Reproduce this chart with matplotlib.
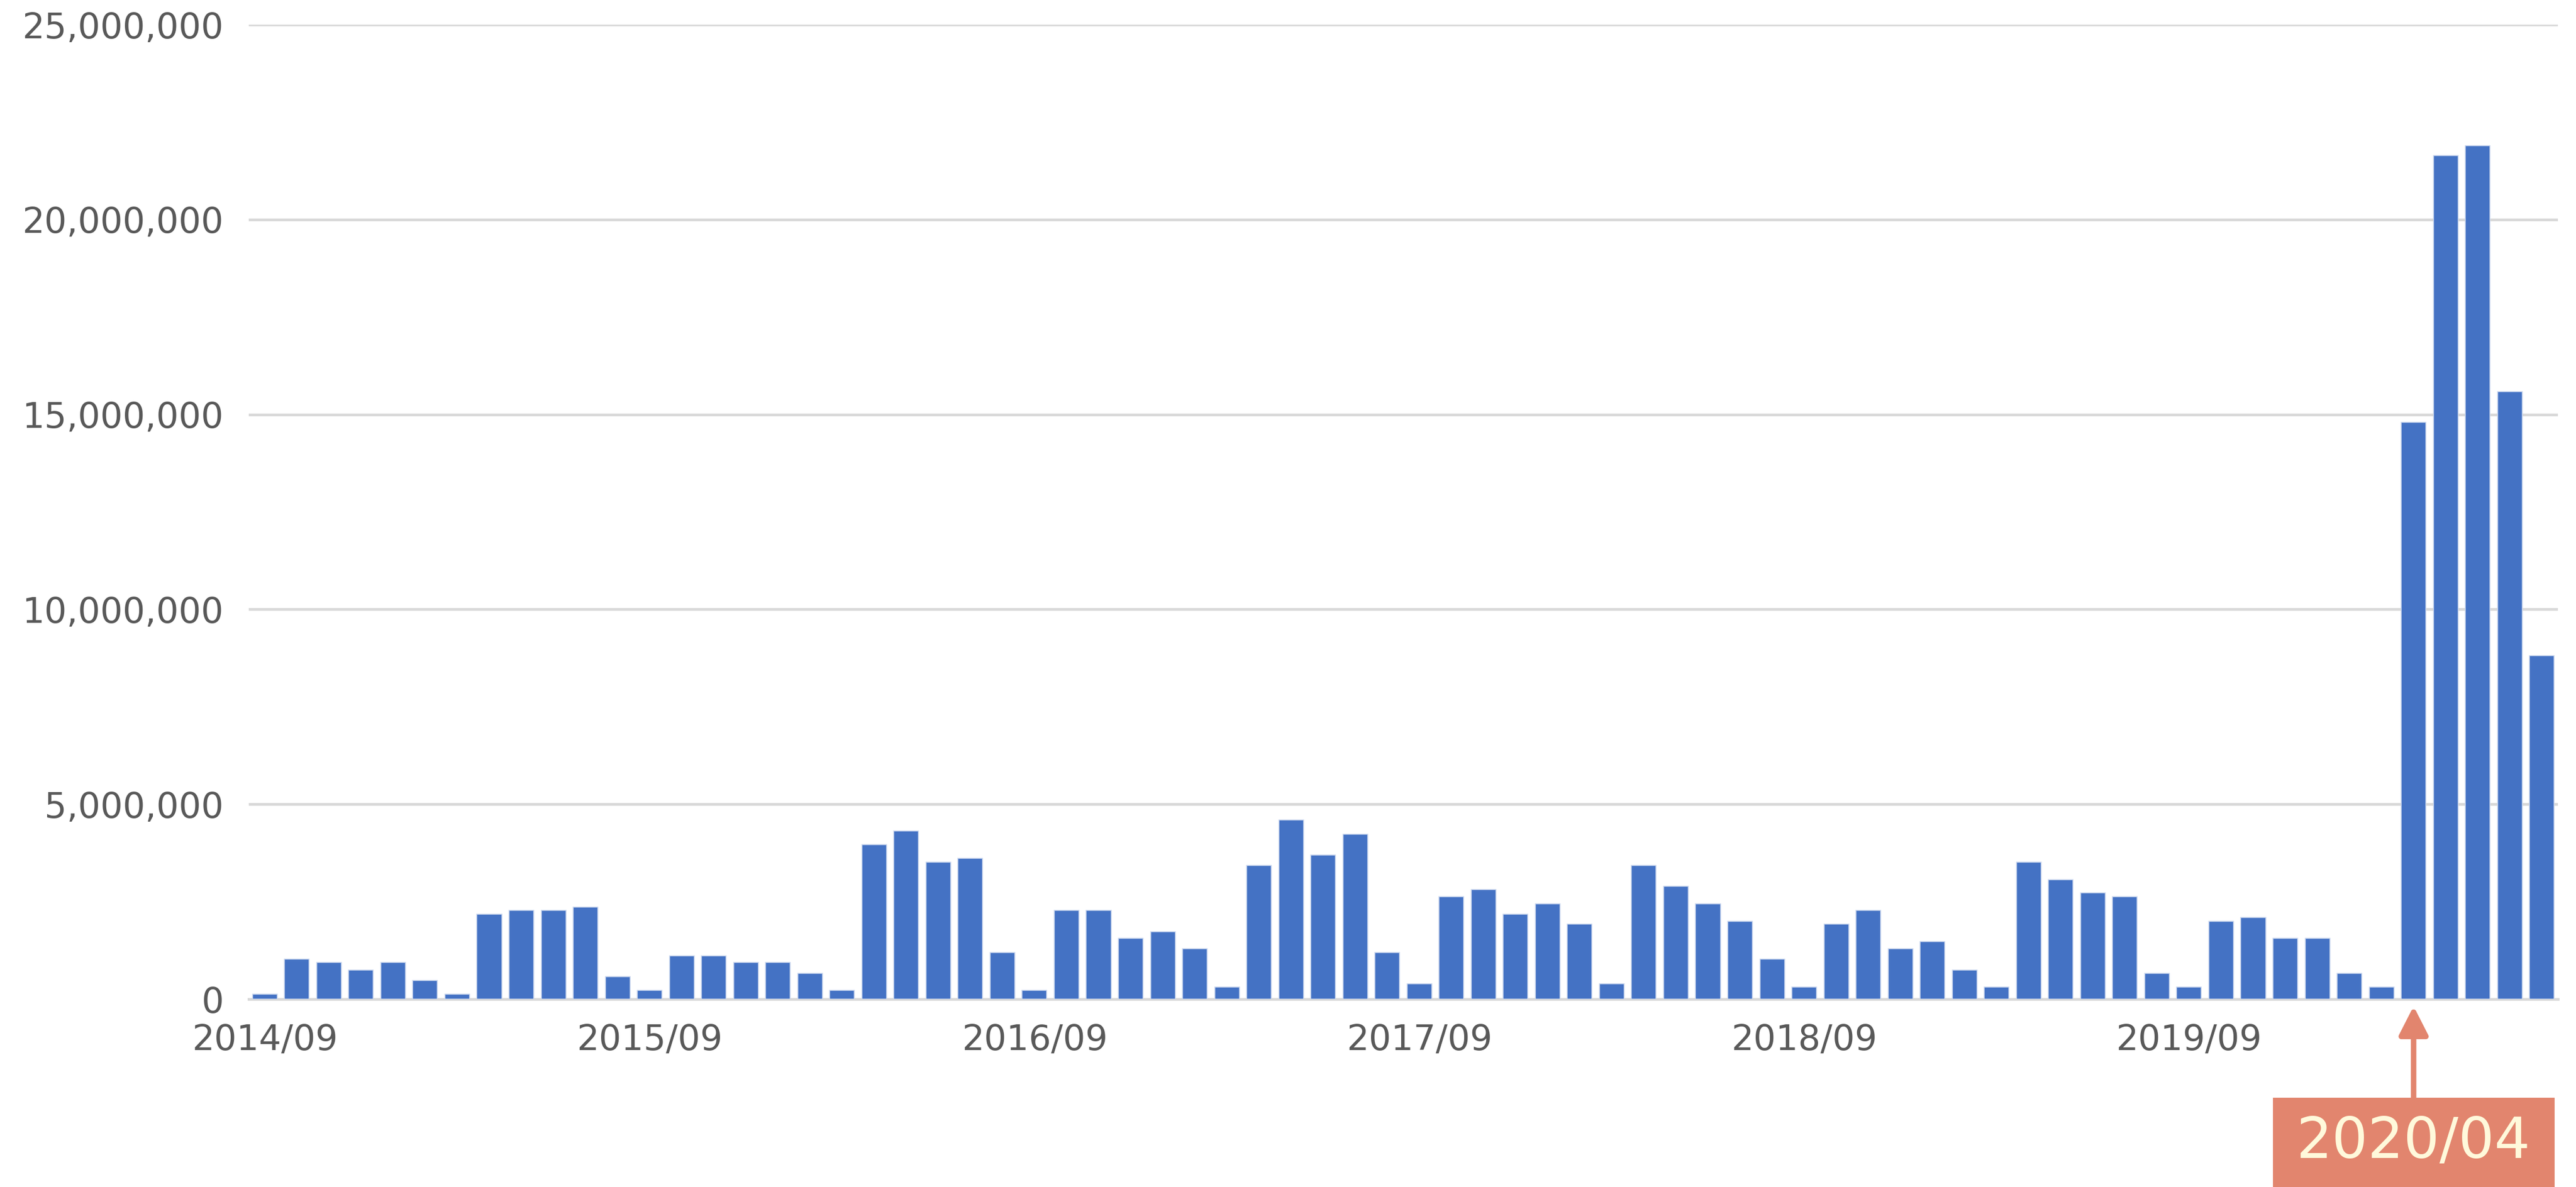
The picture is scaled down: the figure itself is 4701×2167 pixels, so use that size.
"""Monthly bar chart with 2020/04 callout."""

import matplotlib

matplotlib.use("Agg")
import matplotlib.pyplot as plt
import matplotlib.transforms as mtransforms
from matplotlib.patches import Rectangle
from matplotlib.ticker import FuncFormatter, MultipleLocator
import pandas as pd

# monthly values, 2014/09 .. 2020/08 (millions)
months = pd.period_range("2014-09", periods=72, freq="M")
values_m = [
    0.12, 1.02, 0.94, 0.75, 0.94, 0.48, 0.12, 2.18, 2.27, 2.27, 2.36, 0.575,
    0.22, 1.11, 1.11, 0.94, 0.94, 0.665, 0.22, 3.97, 4.32, 3.52, 3.61, 1.20,
    0.22, 2.27, 2.27, 1.56, 1.73, 1.29, 0.31, 3.43, 4.59, 3.70, 4.23, 1.20,
    0.40, 2.63, 2.81, 2.18, 2.44, 1.92, 0.40, 3.43, 2.90, 2.44, 2.00, 1.02,
    0.31, 1.92, 2.27, 1.29, 1.47, 0.75, 0.31, 3.52, 3.07, 2.72, 2.63, 0.665,
    0.31, 2.00, 2.09, 1.56, 1.56, 0.665, 0.31, 14.80, 21.64, 21.90, 15.59, 8.81,
]
values = [v * 1_000_000 for v in values_m]
tick_labels = [m.strftime("%Y/%m") for m in months]
tick_every = 12
callout_label = "2020/04"

BAR_COLOR = "#4472C4"
GRID_COLOR = "#D9D9D9"
TEXT_COLOR = "#595959"
CALLOUT_COLOR = "#E2856E"
CALLOUT_TEXT = "#FFF9DB"

plt.rcParams["font.family"] = ["DejaVu Sans"]

fig = plt.figure(figsize=(4701 / 300, 2167 / 300), dpi=300)
ax = fig.add_axes([0.09658, 0.15828, 0.99298 - 0.09658, 0.97923 - 0.15828])

x = list(range(len(values)))
ax.bar(x, values, width=0.77, color=BAR_COLOR, edgecolor="#C9D6EE",
       linewidth=0.4, zorder=3)

ax.set_xlim(-0.5, len(values) - 0.5)
ax.set_ylim(0, 25_000_000)
ax.yaxis.set_major_locator(MultipleLocator(5_000_000))
ax.yaxis.set_major_formatter(FuncFormatter(lambda v, _: f"{int(v):,}"))
ax.grid(axis="y", color=GRID_COLOR, linewidth=1.2, zorder=0)
ax.set_axisbelow(True)

ax.set_xticks(x[::tick_every])
ax.set_xticklabels(tick_labels[::tick_every])

for side in ("top", "right", "left"):
    ax.spines[side].set_visible(False)
ax.spines["bottom"].set_color(GRID_COLOR)
ax.spines["bottom"].set_linewidth(1.2)

ax.tick_params(axis="both", length=0, labelsize=15.4, labelcolor=TEXT_COLOR)
ax.tick_params(axis="x", pad=10.5)
ax.tick_params(axis="y", pad=11)

# callout box and arrow below the 2020/04 bar
idx = tick_labels.index(callout_label)
trans = mtransforms.blended_transform_factory(ax.transData, fig.transFigure)
box_w = 8.78
box_top = 1 - 2004 / 2167
ax.add_patch(Rectangle((idx - box_w / 2, -0.01), box_w, box_top + 0.01,
                       transform=trans, facecolor=CALLOUT_COLOR,
                       edgecolor="none", clip_on=False, zorder=5))
ax.text(idx, 1 - 2086 / 2167, callout_label, transform=trans,
        ha="center", va="center", fontsize=24.7, color=CALLOUT_TEXT,
        zorder=6, clip_on=False)
ax.annotate(
    "", xy=(idx, 1 - 1837 / 2167), xycoords=trans,
    xytext=(idx, box_top), textcoords=trans,
    arrowprops=dict(arrowstyle="-|>,head_length=10.6,head_width=5.4",
                    mutation_scale=1, color=CALLOUT_COLOR, lw=2.4,
                    shrinkA=0, shrinkB=0),
    annotation_clip=False,
)

fig.savefig("out.png", dpi=300, facecolor="white")
